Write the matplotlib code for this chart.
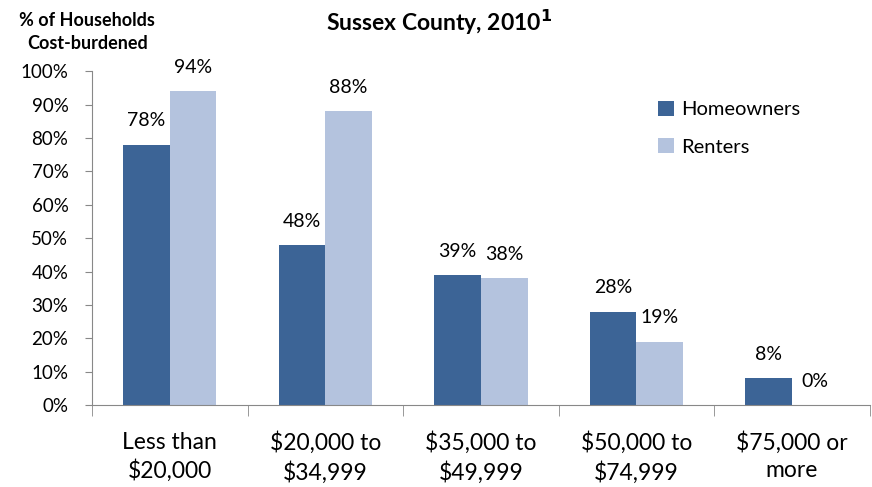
import matplotlib.pyplot as plt
import matplotlib.ticker as mticker
import numpy as np

plt.rcParams['font.family'] = ['Lato', 'DejaVu Sans']

categories = ["Less than\n$20,000", "$20,000 to\n$34,999", "$35,000 to\n$49,999",
              "$50,000 to\n$74,999", "$75,000 or\nmore"]
homeowners = [0.78, 0.48, 0.39, 0.28, 0.08]
renters = [0.94, 0.88, 0.38, 0.19, 0.00]

c_own = "#3C6496"
c_rent = "#B4C3DE"

fig = plt.figure(figsize=(8.72, 4.87), dpi=100)
ax = fig.add_axes([0.1055, 0.168, 0.892, 0.686])

x = np.arange(len(categories))
w = 0.3
b1 = ax.bar(x - w / 2, homeowners, w, color=c_own, label="Homeowners")
b2 = ax.bar(x + w / 2, renters, w, color=c_rent, label="Renters")

for bars, vals in ((b1, homeowners), (b2, renters)):
    for r, v in zip(bars, vals):
        ax.annotate(f"{v:.0%}", (r.get_x() + r.get_width() / 2, v),
                    xytext=(0, 11), textcoords="offset points",
                    ha="center", va="bottom", fontsize=14)

ax.set_xlim(-0.5, 4.5)
ax.set_ylim(0, 1.0)
ax.yaxis.set_major_locator(mticker.MultipleLocator(0.1))
ax.yaxis.set_major_formatter(mticker.PercentFormatter(1.0, decimals=0))
ax.tick_params(axis="y", labelsize=13.5, length=5, color="#888888", pad=12)

ax.set_xticks(x)
ax.set_xticklabels(categories, fontsize=16.5, linespacing=1.35)
ax.tick_params(axis="x", length=0, pad=19)
ax.set_xticks(np.arange(-0.5, 4.6, 1), minor=True)
ax.tick_params(axis="x", which="minor", length=8, color="#888888")

for s in ("top", "right"):
    ax.spines[s].set_visible(False)
for s in ("left", "bottom"):
    ax.spines[s].set_color("#888888")

ax.legend(loc="upper left", bbox_to_anchor=(0.705, 0.965), frameon=False,
          fontsize=14.5, handlelength=0.75, handleheight=0.75,
          labelspacing=1.0, handletextpad=0.35)

fig.text(0.503, 0.955, "Sussex County, 2010$^{\\mathbf{1}}$", ha="center", va="center",
         fontsize=16.5, fontweight="bold")
fig.text(0.1, 0.935, "% of Households\nCost-burdened", ha="center", va="center",
         fontsize=13, fontweight="bold", linespacing=1.45)

fig.savefig("out.png", dpi=100)
